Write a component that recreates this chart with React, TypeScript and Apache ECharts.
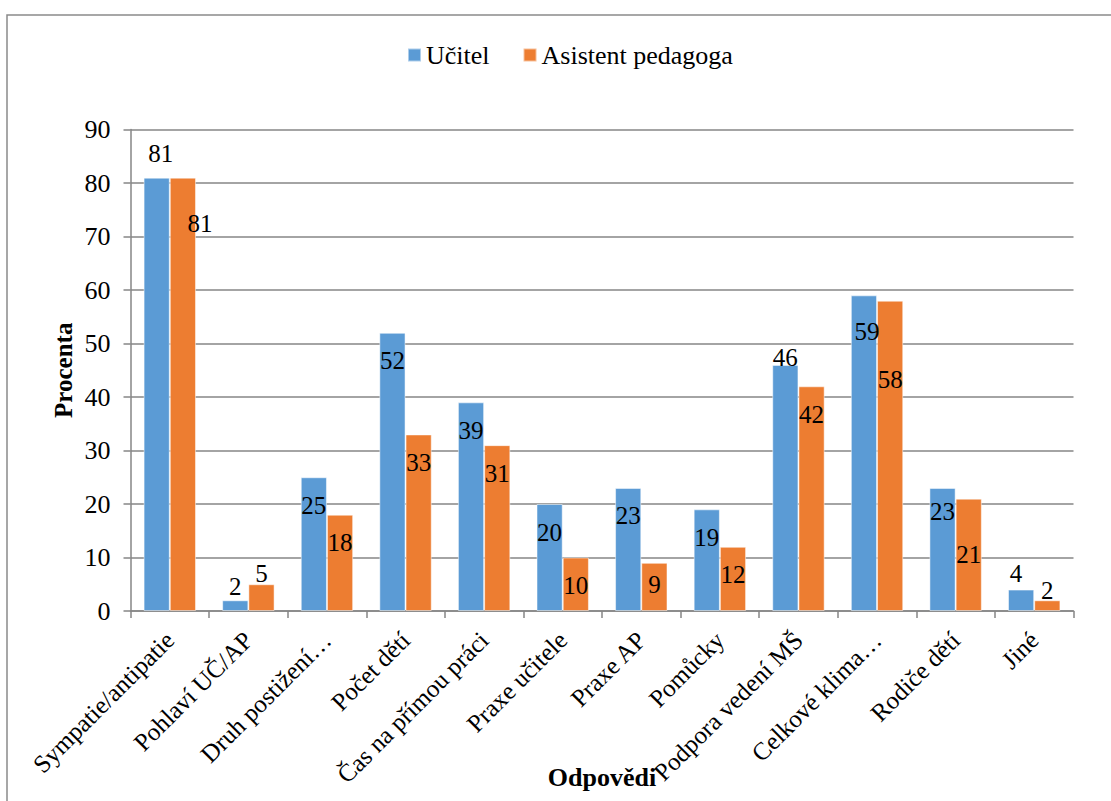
import React, { useEffect, useRef } from "react";
import * as echarts from "echarts";

const categories = [
  "Sympatie/antipatie",
  "Pohlaví UČ/AP",
  "Druh postižení…",
  "Počet dětí",
  "Čas na přímou práci",
  "Praxe učitele",
  "Praxe AP",
  "Pomůcky",
  "Podpora vedení MŠ",
  "Celkové klima…",
  "Rodiče dětí",
  "Jiné",
];
const teacherValues = [81, 2, 25, 52, 39, 20, 23, 19, 46, 59, 23, 4];
const assistantValues = [81, 5, 18, 33, 31, 10, 9, 12, 42, 58, 21, 2];
const yTicks = { min: 0, max: 90, interval: 10 };

// label placement tweaks (style only)
const teacherLabelStyle: any[] = [
  { position: "top", distance: 11.5, offset: [4, 0] },
  { position: "top", distance: 1.5 },
  {}, {}, {}, {}, {}, {},
  { position: "top", distance: -5.5 },
  { distance: 23.5, offset: [3, 0] },
  { distance: 11.5 },
  { position: "top", distance: 3.5, offset: [-5, 0] },
];
const assistantLabelStyle: any[] = [
  { distance: 33.5, offset: [17, 0] },
  { position: "top", distance: -1.5 },
  {}, {}, {}, {},
  { distance: 9.5 },
  {}, {},
  { distance: 66.5 },
  { distance: 43.5 },
  { position: "top", distance: -2.5 },
];

const FONT = "Liberation Serif";

export default function App() {
  const ref = useRef<HTMLDivElement>(null);
  useEffect(() => {
    if (!ref.current) return;
    const chart = echarts.init(ref.current, undefined, { renderer: "svg" });
    const mk = (vals: number[], styles: any[]) =>
      vals.map((v, i) => ({ value: v, label: styles[i] || {} }));
    chart.setOption({
      animation: false,
      textStyle: { fontFamily: FONT },
      graphic: [
        {
          type: "rect",
          shape: { x: 7, y: 15, width: 1120, height: 800 },
          style: { fill: "none", stroke: "#8a8a8a", lineWidth: 1.5 },
          silent: true,
        },
      ],
      legend: {
        left: 407,
        top: 42,
        padding: 0,
        itemWidth: 13,
        itemHeight: 13,
        itemGap: 33,
        icon: "rect",
        textStyle: { fontFamily: FONT, fontSize: 26, fontWeight: "normal", color: "#000" },
        data: ["Učitel", "Asistent pedagoga"],
      },
      grid: {
        left: 130.5,
        right: 37.5,
        top: 129.5,
        bottom: 190,
        containLabel: false,
        outerBoundsMode: "none",
      },
      xAxis: {
        type: "category",
        data: categories,
        name: "Odpovědi",
        nameLocation: "middle",
        nameGap: 153,
        nameMoveOverlap: false,
        nameTextStyle: { fontFamily: FONT, fontSize: 26, fontWeight: "bold", color: "#000" },
        axisLine: { lineStyle: { color: "#868686", width: 1.5 } },
        axisTick: { show: true, length: 7, lineStyle: { color: "#868686", width: 1.5 } },
        axisLabel: {
          rotate: 45,
          interval: 0,
          margin: 25,
          fontFamily: FONT,
          fontWeight: "normal",
          fontSize: 25,
          color: "#000",
        },
      },
      yAxis: {
        type: "value",
        min: yTicks.min,
        max: yTicks.max,
        interval: yTicks.interval,
        name: "Procenta",
        nameLocation: "middle",
        nameGap: 55,
        nameMoveOverlap: false,
        nameTextStyle: { fontFamily: FONT, fontSize: 25, fontWeight: "bold", color: "#000" },
        axisLine: { show: true, lineStyle: { color: "#868686", width: 1.5 } },
        axisTick: { show: true, length: 7, lineStyle: { color: "#868686", width: 1.5 } },
        axisLabel: { margin: 20, fontFamily: FONT, fontWeight: "normal", fontSize: 26, color: "#000" },
        splitLine: { lineStyle: { color: "#868686", width: 1.5 } },
      },
      series: [
        {
          name: "Učitel",
          type: "bar",
          data: mk(teacherValues, teacherLabelStyle),
          barGap: "0%",
          barCategoryGap: "33.3%",
          itemStyle: { color: "#5B9BD5", borderColor: "rgba(255,255,255,0.5)", borderWidth: 1 },
          label: {
            show: true,
            position: "insideTop",
            distance: 15.5,
            fontFamily: FONT,
            fontWeight: "normal",
            fontSize: 25,
            color: "#000",
          },
        },
        {
          name: "Asistent pedagoga",
          type: "bar",
          data: mk(assistantValues, assistantLabelStyle),
          barGap: "0%",
          barCategoryGap: "33.3%",
          itemStyle: { color: "#ED7D31", borderColor: "rgba(255,255,255,0.5)", borderWidth: 1 },
          label: {
            show: true,
            position: "insideTop",
            distance: 15.5,
            fontFamily: FONT,
            fontWeight: "normal",
            fontSize: 25,
            color: "#000",
          },
        },
      ],
    });
    return () => chart.dispose();
  }, []);
  return (
    <div
      ref={ref}
      style={{ position: "fixed", left: 0, top: 0, width: 1111, height: 801, background: "#fff" }}
    />
  );
}
